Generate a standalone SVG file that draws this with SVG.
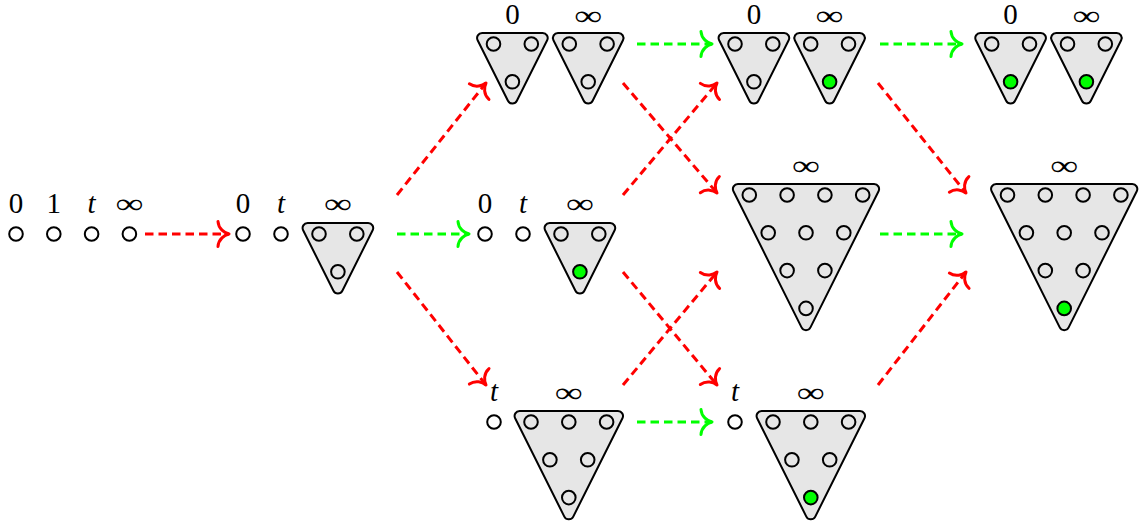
<svg xmlns="http://www.w3.org/2000/svg" xmlns:xlink="http://www.w3.org/1999/xlink" width="1139" height="521" viewBox="0 0 1139 521">
<style>
.tri{fill:#e6e6e6;stroke:#000;stroke-width:2;stroke-linejoin:round}
.p{fill:none;stroke:#000;stroke-width:2}
.pg{fill:#00ff00;stroke:#000;stroke-width:2}
.lb{font-family:"Liberation Serif","Times New Roman",serif;font-size:29px;text-anchor:middle;fill:#000}
.it{font-style:italic}
.inf{font-family:"Liberation Serif","Times New Roman",serif;font-size:28px;text-anchor:middle;fill:#000}
.c{fill:none;stroke-width:3;stroke-dasharray:8.5 5}
.r{stroke:#ff0000;marker-end:url(#ar)}
.g{stroke:#00ff00;marker-end:url(#ag)}
.hr{fill:none;stroke:#ff0000;stroke-width:3;stroke-linecap:round;stroke-linejoin:round}
.hg{fill:none;stroke:#00ff00;stroke-width:3;stroke-linecap:round;stroke-linejoin:round}
</style>
<defs>
<path id="t2" class="tri" d="M -11.386,-11 L 49.186,-11 A 5 5 0 0 1 53.658,-3.764 L 23.372,56.806 A 5 5 0 0 1 14.428,56.806 L -15.858,-3.764 A 5 5 0 0 1 -11.386,-11 Z"/>
<path id="t3" class="tri" d="M -11.386,-11 L 86.986,-11 A 5 5 0 0 1 91.458,-3.764 L 42.272,94.606 A 5 5 0 0 1 33.328,94.606 L -15.858,-3.764 A 5 5 0 0 1 -11.386,-11 Z"/>
<path id="t4" class="tri" d="M -11.386,-11 L 124.786,-11 A 5 5 0 0 1 129.258,-3.764 L 61.172,132.406 A 5 5 0 0 1 52.228,132.406 L -15.858,-3.764 A 5 5 0 0 1 -11.386,-11 Z"/>
<marker id="ar" markerUnits="userSpaceOnUse" orient="auto" refX="0" refY="0" markerWidth="30" markerHeight="30" overflow="visible">
<path class="hr" d="M -11,-12.5 C -10.5,-5 -4.5,-1 0,0 C -4.5,1 -10.5,5 -11,12.5"/>
</marker>
<marker id="ag" markerUnits="userSpaceOnUse" orient="auto" refX="0" refY="0" markerWidth="30" markerHeight="30" overflow="visible">
<path class="hg" d="M -11,-12.5 C -10.5,-5 -4.5,-1 0,0 C -4.5,1 -10.5,5 -11,12.5"/>
</marker>
</defs>
<rect width="1139" height="521" fill="#fff"/>

<g id="connectors">
<path class="c r" d="M 145,234 L 229,234"/>
<path class="c r" d="M 397,195 L 486,83"/>
<path class="c g" d="M 397,234 L 469,234"/>
<path class="c r" d="M 397,272 L 486,385"/>
<path class="c g" d="M 637,44 L 712,44"/>
<path class="c r" d="M 623,83 L 717,193"/>
<path class="c r" d="M 623,195 L 717,83"/>
<path class="c r" d="M 623,272 L 717,385"/>
<path class="c r" d="M 623,385 L 717,272"/>
<path class="c g" d="M 637,422 L 712,422"/>
<path class="c g" d="M 880,44 L 962,44"/>
<path class="c r" d="M 878,83 L 966,193"/>
<path class="c g" d="M 880,234 L 962,234"/>
<path class="c r" d="M 878,385 L 966,272"/>
</g>

<g id="nodeA">
<circle class="p" cx="16" cy="234" r="6.8"/>
<circle class="p" cx="53.8" cy="234" r="6.8"/>
<circle class="p" cx="91.6" cy="234" r="6.8"/>
<circle class="p" cx="129.4" cy="234" r="6.8"/>
<text class="lb" x="16" y="213">0</text>
<text class="lb" x="53.8" y="213">1</text>
<text class="lb it" x="91.6" y="213">t</text>
<text class="inf" x="129.4" y="213" textLength="28" lengthAdjust="spacingAndGlyphs">∞</text>
</g>

<g id="nodeB">
<circle class="p" cx="243" cy="234" r="6.8"/>
<circle class="p" cx="281" cy="234" r="6.8"/>
<use xlink:href="#t2" x="319" y="234"/>
<circle class="p" cx="319" cy="234" r="6.8"/>
<circle class="p" cx="356.8" cy="234" r="6.8"/>
<circle class="p" cx="337.9" cy="271.8" r="6.8"/>
<text class="lb" x="243" y="213">0</text>
<text class="lb it" x="281" y="213">t</text>
<text class="inf" x="337.9" y="213" textLength="28" lengthAdjust="spacingAndGlyphs">∞</text>
</g>

<g id="nodeC">
<circle class="p" cx="485" cy="234" r="6.8"/>
<circle class="p" cx="523" cy="234" r="6.8"/>
<use xlink:href="#t2" x="561" y="234"/>
<circle class="p" cx="561" cy="234" r="6.8"/>
<circle class="p" cx="598.8" cy="234" r="6.8"/>
<circle class="pg" cx="579.9" cy="271.8" r="6.8"/>
<text class="lb" x="485" y="213">0</text>
<text class="lb it" x="523" y="213">t</text>
<text class="inf" x="579.9" y="213" textLength="28" lengthAdjust="spacingAndGlyphs">∞</text>
</g>

<g id="nodeD">
<use xlink:href="#t2" x="493.5" y="44"/>
<circle class="p" cx="493.5" cy="44" r="6.8"/>
<circle class="p" cx="531.3" cy="44" r="6.8"/>
<circle class="p" cx="512.4" cy="81.8" r="6.8"/>
<use xlink:href="#t2" x="569.3" y="44"/>
<circle class="p" cx="569.3" cy="44" r="6.8"/>
<circle class="p" cx="607.1" cy="44" r="6.8"/>
<circle class="p" cx="588.2" cy="81.8" r="6.8"/>
<text class="lb" x="512.4" y="24">0</text>
<text class="inf" x="588.2" y="25" textLength="28" lengthAdjust="spacingAndGlyphs">∞</text>
</g>

<g id="nodeE">
<circle class="p" cx="494" cy="422" r="6.8"/>
<use xlink:href="#t3" x="531" y="422"/>
<circle class="p" cx="531" cy="422" r="6.8"/>
<circle class="p" cx="568.8" cy="422" r="6.8"/>
<circle class="p" cx="606.6" cy="422" r="6.8"/>
<circle class="p" cx="549.9" cy="459.8" r="6.8"/>
<circle class="p" cx="587.7" cy="459.8" r="6.8"/>
<circle class="p" cx="568.8" cy="497.6" r="6.8"/>
<text class="lb it" x="494" y="401">t</text>
<text class="inf" x="568.8" y="402" textLength="28" lengthAdjust="spacingAndGlyphs">∞</text>
</g>

<g id="nodeF">
<use xlink:href="#t2" x="735" y="44"/>
<circle class="p" cx="735" cy="44" r="6.8"/>
<circle class="p" cx="772.8" cy="44" r="6.8"/>
<circle class="p" cx="753.9" cy="81.8" r="6.8"/>
<use xlink:href="#t2" x="810.7" y="44"/>
<circle class="p" cx="810.7" cy="44" r="6.8"/>
<circle class="p" cx="848.5" cy="44" r="6.8"/>
<circle class="pg" cx="829.6" cy="81.8" r="6.8"/>
<text class="lb" x="753.9" y="24">0</text>
<text class="inf" x="829.6" y="25" textLength="28" lengthAdjust="spacingAndGlyphs">∞</text>
</g>

<g id="nodeG">
<use xlink:href="#t2" x="991.7" y="44"/>
<circle class="p" cx="991.7" cy="44" r="6.8"/>
<circle class="p" cx="1029.5" cy="44" r="6.8"/>
<circle class="pg" cx="1010.6" cy="81.8" r="6.8"/>
<use xlink:href="#t2" x="1067.5" y="44"/>
<circle class="p" cx="1067.5" cy="44" r="6.8"/>
<circle class="p" cx="1105.3" cy="44" r="6.8"/>
<circle class="pg" cx="1086.4" cy="81.8" r="6.8"/>
<text class="lb" x="1010.6" y="24">0</text>
<text class="inf" x="1086.4" y="25" textLength="28" lengthAdjust="spacingAndGlyphs">∞</text>
</g>

<g id="nodeH">
<use xlink:href="#t4" x="749.3" y="195"/>
<circle class="p" cx="749.3" cy="195" r="6.8"/>
<circle class="p" cx="787.1" cy="195" r="6.8"/>
<circle class="p" cx="824.9" cy="195" r="6.8"/>
<circle class="p" cx="862.7" cy="195" r="6.8"/>
<circle class="p" cx="768.2" cy="232.8" r="6.8"/>
<circle class="p" cx="806" cy="232.8" r="6.8"/>
<circle class="p" cx="843.8" cy="232.8" r="6.8"/>
<circle class="p" cx="787.1" cy="270.6" r="6.8"/>
<circle class="p" cx="824.9" cy="270.6" r="6.8"/>
<circle class="p" cx="806" cy="308.4" r="6.8"/>
<text class="inf" x="806" y="175" textLength="28" lengthAdjust="spacingAndGlyphs">∞</text>
</g>

<g id="nodeI">
<circle class="p" cx="735" cy="422" r="6.8"/>
<use xlink:href="#t3" x="773" y="422"/>
<circle class="p" cx="773" cy="422" r="6.8"/>
<circle class="p" cx="810.8" cy="422" r="6.8"/>
<circle class="p" cx="848.6" cy="422" r="6.8"/>
<circle class="p" cx="791.9" cy="459.8" r="6.8"/>
<circle class="p" cx="829.7" cy="459.8" r="6.8"/>
<circle class="pg" cx="810.8" cy="497.6" r="6.8"/>
<text class="lb it" x="735" y="401">t</text>
<text class="inf" x="810.8" y="402" textLength="28" lengthAdjust="spacingAndGlyphs">∞</text>
</g>

<g id="nodeJ">
<use xlink:href="#t4" x="1007.5" y="195"/>
<circle class="p" cx="1007.5" cy="195" r="6.8"/>
<circle class="p" cx="1045.3" cy="195" r="6.8"/>
<circle class="p" cx="1083.1" cy="195" r="6.8"/>
<circle class="p" cx="1120.9" cy="195" r="6.8"/>
<circle class="p" cx="1026.4" cy="232.8" r="6.8"/>
<circle class="p" cx="1064.2" cy="232.8" r="6.8"/>
<circle class="p" cx="1102" cy="232.8" r="6.8"/>
<circle class="p" cx="1045.3" cy="270.6" r="6.8"/>
<circle class="p" cx="1083.1" cy="270.6" r="6.8"/>
<circle class="pg" cx="1064.2" cy="308.4" r="6.8"/>
<text class="inf" x="1064.2" y="175" textLength="28" lengthAdjust="spacingAndGlyphs">∞</text>
</g>
</svg>
